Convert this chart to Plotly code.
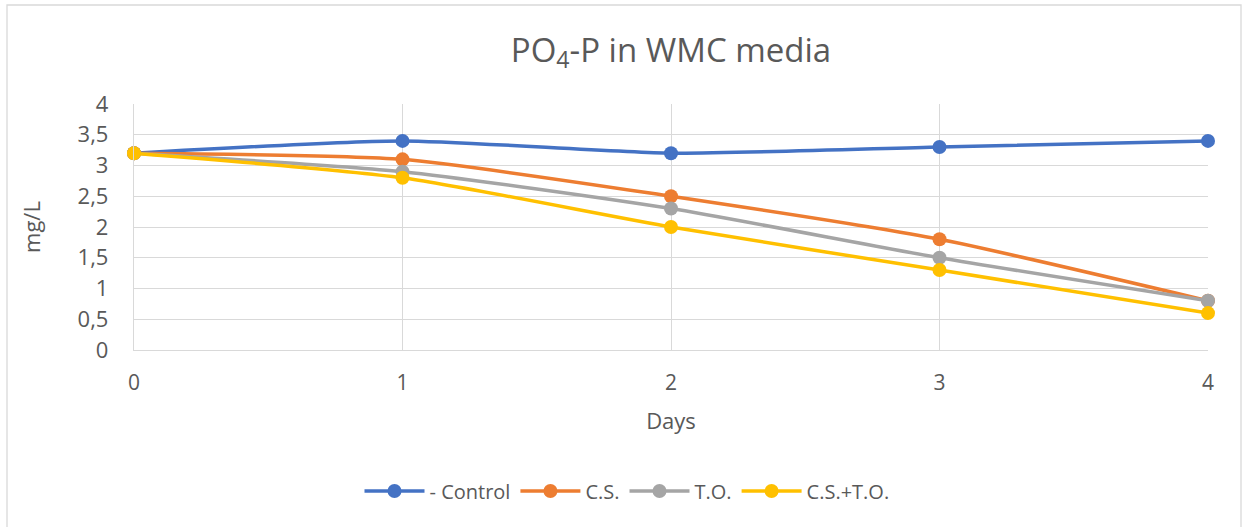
import plotly.graph_objects as go

days = [0, 1, 2, 3, 4]
control = [3.2, 3.4, 3.2, 3.3, 3.4]
cs = [3.2, 3.1, 2.5, 1.8, 0.8]
to = [3.2, 2.9, 2.3, 1.5, 0.8]
cs_to = [3.2, 2.8, 2.0, 1.3, 0.6]

series = [
    ("- Control", control, "#4472C4"),
    ("C.S.", cs, "#ED7D31"),
    ("T.O.", to, "#A5A5A5"),
    ("C.S.+T.O.", cs_to, "#FFC000"),
]

W, H = 1242, 527
L, R, T, B = 134, 1208, 104, 350
FONT = "Open Sans"
GREY = "#595959"

fig = go.Figure()
for name, vals, col in series:
    fig.add_trace(go.Scatter(
        x=days, y=vals, name=name, mode="lines+markers",
        line=dict(color=col, width=3.5, shape="spline", smoothing=0.6),
        marker=dict(color=col, size=14),
        cliponaxis=False,
    ))

pw = R - L
ph = B - T
def px_x(p):
    return (p - L) / pw
def px_y(p):
    return (B - p) / ph

# chart frame
fig.add_shape(type="rect", xref="paper", yref="paper",
              x0=px_x(7), x1=px_x(1241), y0=px_y(540), y1=px_y(5),
              line=dict(color="#D9D9D9", width=1.3), layer="below")

fig.update_layout(
    width=W, height=H,
    margin=dict(l=L, r=W - R, t=T, b=H - B),
    paper_bgcolor="white", plot_bgcolor="white",
    separators=",.",
    title=dict(text="PO<sub>4</sub>-P in WMC media", x=0.5, xref="paper",
               xanchor="center", y=1 - 50 / H, yanchor="middle",
               font=dict(family=FONT, size=33, color=GREY)),
    font=dict(family=FONT, color=GREY, size=20),
    xaxis=dict(range=[0, 4], tickvals=days, showgrid=True,
               gridcolor="#D9D9D9", gridwidth=1.3, zeroline=False,
               showline=True, linecolor="#D9D9D9", linewidth=1.3,
               ticks="", tickfont=dict(size=21, color=GREY),
               ticklabelstandoff=14,
               title=dict(text="Days", font=dict(size=22, color=GREY), standoff=18)),
    yaxis=dict(range=[0, 4], dtick=0.5, showgrid=True,
               gridcolor="#D9D9D9", gridwidth=1.3, zeroline=False,
               showline=True, linecolor="#D9D9D9", linewidth=1.3,
               ticks="", tickfont=dict(size=22, color=GREY),
               ticklabelstandoff=20,
               title=dict(text="mg/L", font=dict(size=22, color=GREY), standoff=30)),
    legend=dict(orientation="h", x=px_x(627), xanchor="center",
                y=px_y(491), yanchor="middle",
                font=dict(size=20, color=GREY), itemwidth=60,
                traceorder="normal"),
    showlegend=True,
)

fig.write_html("out.html")
